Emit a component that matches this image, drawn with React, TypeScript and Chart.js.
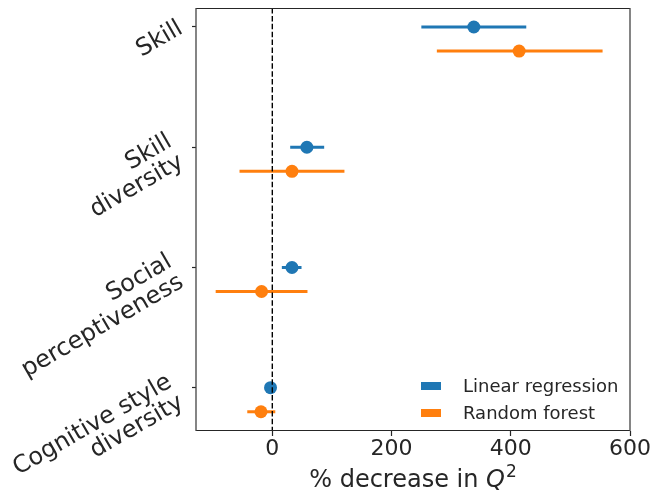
import React, { useEffect, useRef } from 'react';
import { Chart, registerables } from 'chart.js';

Chart.register(...registerables);

// ---- data ----
const categories: string[][] = [
  ['Skill'],
  ['Skill', 'diversity'],
  ['Social', 'perceptiveness'],
  ['Cognitive style', 'diversity'],
];
const seriesNames = ['Linear regression', 'Random forest'];
const seriesColors = ['#1f77b4', '#ff7f0e'];

const linearMean = [338, 58, 33, -3];
const linearLow = [250, 30, 16, -8];
const linearHigh = [426, 87, 49, 3];

const forestMean = [414, 33, -18, -19];
const forestLow = [276, -55, -95, -42];
const forestHigh = [554, 121, 59, 5];

const xTicks = [0, 200, 400, 600];
const xTitle = ['% decrease in ', 'Q', '2'];

// ---- layout constants ----
const X_MIN = -128;
const X_MAX = 600;
const Y_MIN = -0.158;
const Y_MAX = 3.36;
const DODGE = [0, 0.2];
const FONT = "'DejaVu Sans', sans-serif";
const TEXT = '#262626';

export default function App() {
  const ref = useRef<HTMLCanvasElement | null>(null);

  useEffect(() => {
    if (!ref.current) return;
    const means = [linearMean, forestMean];
    const lows = [linearLow, forestLow];
    const highs = [linearHigh, forestHigh];

    const datasets: any[] = [];
    // zero reference line
    datasets.push({
      type: 'scatter',
      data: [
        { x: 0, y: Y_MIN },
        { x: 0, y: Y_MAX },
      ],
      showLine: true,
      borderColor: '#000',
      borderWidth: 1.4,
      borderDash: [5.5, 2.4],
      pointRadius: 0,
      order: 0,
    });
    // error bars
    for (let s = 0; s < 2; s++) {
      for (let i = 0; i < categories.length; i++) {
        datasets.push({
          type: 'scatter',
          data: [
            { x: lows[s][i], y: i + DODGE[s] },
            { x: highs[s][i], y: i + DODGE[s] },
          ],
          showLine: true,
          borderColor: seriesColors[s],
          borderWidth: 3,
          pointRadius: 0,
          order: 2,
        });
      }
    }
    // points
    for (let s = 0; s < 2; s++) {
      datasets.push({
        type: 'scatter',
        label: seriesNames[s],
        data: means[s].map((v, i) => ({ x: v, y: i + DODGE[s] })),
        backgroundColor: seriesColors[s],
        borderWidth: 0,
        pointRadius: 6.5,
        order: 1,
      });
    }

    const overlay = {
      id: 'overlay',
      afterDraw(chart: any) {
        const { ctx, chartArea } = chart;
        const { left, right, top, bottom } = chartArea;
        ctx.save();
        // frame
        ctx.strokeStyle = TEXT;
        ctx.lineWidth = 1;
        ctx.beginPath();
        ctx.moveTo(left, top + 0.5);
        ctx.lineTo(right, top + 0.5);
        ctx.moveTo(left, bottom - 0.5);
        ctx.lineTo(right, bottom - 0.5);
        ctx.stroke();
        ctx.lineWidth = 1.3;
        ctx.strokeStyle = '#444';
        ctx.beginPath();
        ctx.moveTo(left, top);
        ctx.lineTo(left, bottom);
        ctx.moveTo(right, top);
        ctx.lineTo(right, bottom);
        ctx.stroke();

        // y category labels, rotated 30 degrees
        const yScale = chart.scales.y;
        ctx.fillStyle = TEXT;
        ctx.font = `24px ${FONT}`;
        ctx.textAlign = 'right';
        ctx.textBaseline = 'middle';
        const lineH = 23.5;
        categories.forEach((lines, i) => {
          const py = yScale.getPixelForValue(i);
          const n = lines.length;
          ctx.save();
          ctx.translate(left - 15, py);
          ctx.rotate(-Math.PI / 6);
          const shift = n > 1 ? -6 : 0;
          lines.forEach((ln, k) => {
            ctx.fillText(ln, shift, (k - (n - 1) / 2) * lineH);
          });
          ctx.restore();
        });

        // x title with italic Q and superscript 2
        ctx.fillStyle = TEXT;
        ctx.textBaseline = 'alphabetic';
        ctx.textAlign = 'left';
        const f1 = `24px ${FONT}`;
        const f2 = `italic 24px ${FONT}`;
        const f3 = `17px ${FONT}`;
        ctx.font = f1;
        const w1 = ctx.measureText(xTitle[0]).width;
        ctx.font = f2;
        const w2 = ctx.measureText(xTitle[1]).width;
        ctx.font = f3;
        const w3 = ctx.measureText(xTitle[2]).width;
        const total = w1 + w2 + 1 + w3;
        let x = (left + right) / 2 - total / 2;
        const base = 487;
        ctx.font = f1;
        ctx.fillText(xTitle[0], x, base);
        x += w1;
        ctx.font = f2;
        ctx.fillText(xTitle[1], x, base);
        x += w2 + 1;
        ctx.font = f3;
        ctx.fillText(xTitle[2], x, base - 10);

        // legend
        ctx.font = `18px ${FONT}`;
        ctx.textBaseline = 'middle';
        for (let s = 0; s < seriesNames.length; s++) {
          const cy = 386 + 27 * s;
          ctx.fillStyle = seriesColors[s];
          ctx.fillRect(421, cy - 4, 20, 8);
          ctx.fillStyle = TEXT;
          ctx.fillText(seriesNames[s], 463, cy + 1);
        }
        ctx.restore();
      },
    };

    const chart = new Chart(ref.current, {
      type: 'scatter',
      data: { datasets },
      options: {
        animation: false,
        responsive: false,
        maintainAspectRatio: false,
        layout: { padding: { top: 8, right: 23, left: 0, bottom: 0 } },
        plugins: {
          legend: { display: false },
          tooltip: { enabled: false },
        },
        scales: {
          x: {
            type: 'linear',
            min: X_MIN,
            max: X_MAX,
            afterBuildTicks: (s: any) => {
              s.ticks = xTicks.map((v) => ({ value: v }));
            },
            afterFit: (s: any) => {
              s.height = 61;
              s.paddingLeft = 0;
              s.paddingRight = 0;
            },
            ticks: {
              font: { family: FONT, size: 22 },
              color: TEXT,
              padding: 0,
              maxRotation: 0,
              minRotation: 0,
            },
            grid: {
              display: true,
              drawOnChartArea: false,
              drawTicks: true,
              tickLength: 5,
              tickColor: TEXT,
              tickWidth: 1.2,
            },
            border: { display: false },
          },
          y: {
            type: 'linear',
            min: Y_MIN,
            max: Y_MAX,
            reverse: true,
            afterBuildTicks: (s: any) => {
              s.ticks = categories.map((_, i) => ({ value: i }));
            },
            afterFit: (s: any) => {
              s.width = 196;
              s.paddingTop = 0;
              s.paddingBottom = 0;
            },
            ticks: {
              display: false,
            },
            grid: {
              display: true,
              drawOnChartArea: false,
              drawTicks: true,
              tickLength: 4,
              tickColor: TEXT,
              tickWidth: 1.2,
            },
            border: { display: false },
          },
        },
      },
      plugins: [overlay],
    });
    return () => chart.destroy();
  }, []);

  return (
    <div style={{ position: 'fixed', left: 0, top: 0, width: 653, height: 492, background: '#fff' }}>
      <canvas ref={ref} width={653} height={492} style={{ width: 653, height: 492, display: 'block' }} />
    </div>
  );
}
